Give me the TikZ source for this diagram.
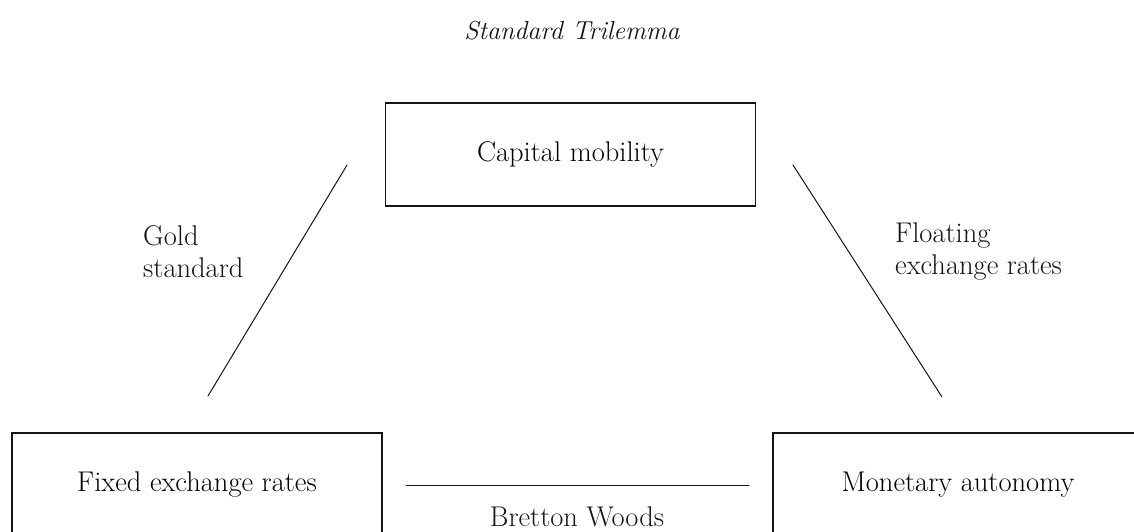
\documentclass[tikz,border=0pt]{standalone}
\usepackage{xcolor}
\usepackage{tikz}
\usetikzlibrary{calc}
\definecolor{ink}{HTML}{141414}
\tikzset{
  box/.style={draw=ink, line width=1.3pt, minimum width=370pt, minimum height=103pt, inner sep=0pt, font=\fontsize{28.5}{34}\selectfont},
  link/.style={draw=ink, line width=1pt, line cap=round},
  lab/.style={text=ink, font=\fontsize{28.5}{32}\selectfont, align=left, anchor=west, inner sep=0pt},
  ttl/.style={text=ink, font=\fontsize{26}{30}\selectfont\itshape, inner sep=0pt}
}
\begin{document}
\begin{tikzpicture}[x=1pt, y=-1pt]
  \useasboundingbox (0,0) rectangle (1134,532);
  \node[ttl] (title) at (572,31) {Standard Trilemma};
  \node[box] (cap) at (570.5,154.5) {Capital mobility};
  \node[box] (fix) at (197,484.5) {Fixed exchange rates};
  \node[box] (mon) at (958,484.5) {Monetary autonomy};
  \coordinate (gA) at (347,165);
  \coordinate (gB) at (208,396);
  \coordinate (fA) at (793,165);
  \coordinate (fB) at (942,397);
  \coordinate (bA) at (406,485);
  \coordinate (bB) at (749,485);
  \draw[link] (gA) -- (gB);
  \draw[link] (fA) -- (fB);
  \draw[link] (bA) -- (bB);
  \node[lab] (gold) at (143,252) {Gold\\standard};
  \node[lab] (float) at (895,252) {Floating\\exchange rates};
  \node[text=ink, font=\fontsize{28.5}{34}\selectfont, inner sep=0pt] (bw) at (577,517) {Bretton Woods};
\end{tikzpicture}
\end{document}
